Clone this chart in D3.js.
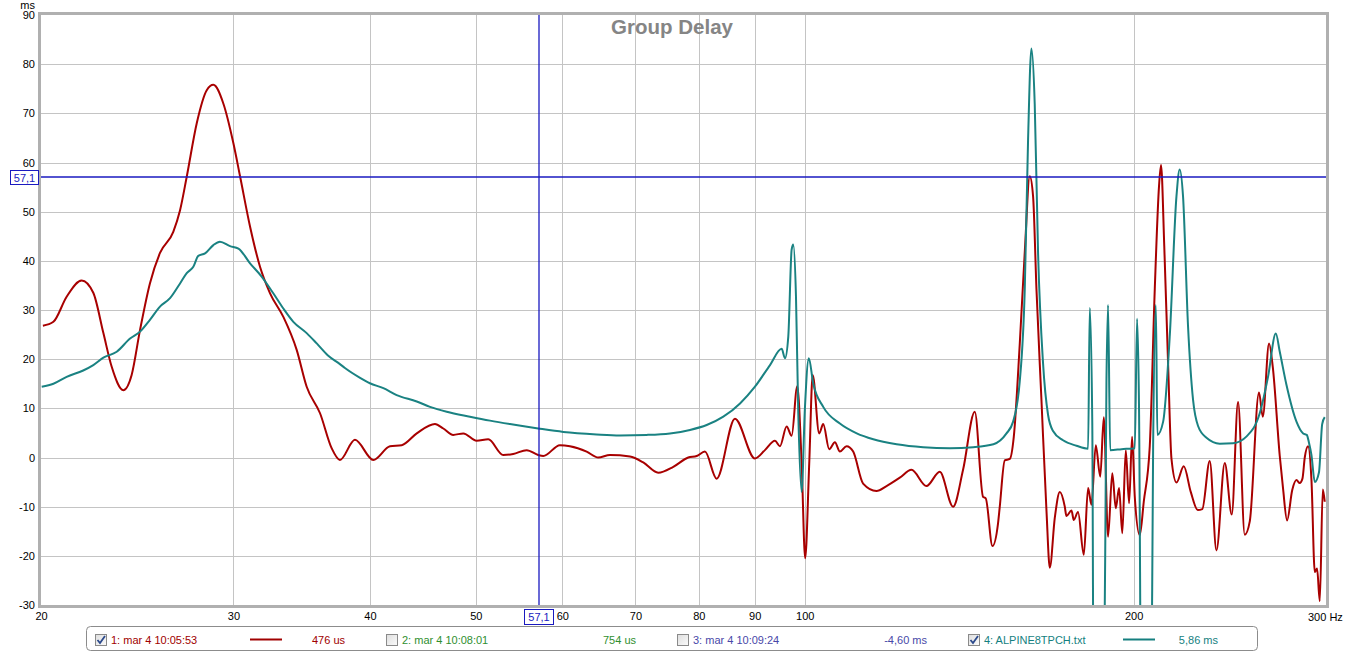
<!DOCTYPE html>
<html><head><meta charset="utf-8">
<script src="https://cdn.jsdelivr.net/npm/d3@7"></script>
<style>
body{margin:0;background:#fff;}
svg{display:block;font-family:"Liberation Sans",Arial,sans-serif;}
</style></head><body>
<svg id="c" width="1345" height="653"></svg>
<script>
const xTicks=[20,30,40,50,60,70,80,90,100,200,300];
const yTicks=[-30,-20,-10,0,10,20,30,40,50,60,70,80,90];
const redFreq=[20.08,20.53,21.11,21.79,22.33,22.81,23.21,23.79,24.21,24.64,
25.16,25.70,26.43,26.81,27.19,27.77,28.36,28.76,29.37,30.0,
30.43,31.07,31.73,32.41,33.33,34.28,35.01,36.01,36.9,37.55,
38.76,40.29,41.73,42.77,44.15,45.88,46.69,47.68,48.7,50.09,
51.33,52.98,54.1,55.66,57.03,57.64,59.7,60.97,63.16,64.72,
66.34,69.19,71.16,73.45,75.81,78.24,79.64,81.04,83.06,86.33,
90.05,91.96,93.93,94.92,96.26,97.29,98.44,99.36,100.1,100.96,
101.7,103.1,103.98,105.3,106.57,107.7,109.23,110.76,113.1,116.34,
118.82,122.19,125.24,129.26,132.93,136.72,139.62,143.11,145.63,146.46,
148.54,150.3,150.85,152.44,154.07,155.37,157.34,159.01,160.69,161.82,
162.97,164.7,166.45,167.62,169.39,171.2,173.0,173.6,175.47,176.3,
177.9,180.07,181.71,183.0,184.68,186.43,187.82,189.52,191.21,192.63,
193.97,195.29,196.73,198.11,199.36,200.5,202.6,204.33,206.93,209.13,
211.02,211.9,213.35,215.06,216.62,218.9,222.3,225.6,228.95,231.14,
234.82,238.15,242.36,245.96,249.25,252.79,255.48,260.5,262.58,266.07,
268.15,272.15,274.03,276.37,279.4,281.9,283.85,285.47,286.87,288.86,
290.95,293.0,294.4,296.1,297.97,299.2];
const redMs=[26.8,27.6,32.7,36.0,33.5,25.3,18.5,13.7,16.8,25.9,
35.4,41.6,45.9,50.3,57.1,68.0,74.7,75.8,72.0,63.9,
57.1,47.0,38.8,33.4,28.6,21.9,14.4,9.0,1.9,-0.5,
3.6,-0.5,2.3,2.5,4.9,6.8,5.9,4.6,4.9,3.4,
3.7,0.5,0.7,1.5,0.5,0.3,2.5,2.3,1.2,0.0,
0.5,0.2,-1.0,-3.1,-1.9,0.0,0.3,1.2,-4.3,7.9,
-0.2,1.5,3.4,2.3,6.3,4.4,14.5,-1.2,-20.5,-1.2,
16.8,4.9,6.8,1.7,3.1,1.2,2.3,1.2,-5.3,-6.8,
-5.8,-4.1,-2.5,-5.8,-2.9,-10.0,-2.5,9.3,-8.0,-8.3,
-18.0,-13.4,-10.0,-0.6,-0.3,4.2,23.1,41.8,57.2,53.1,
34.3,11.7,-10.8,-22.4,-12.3,-7.0,-10.0,-11.9,-10.8,-12.7,
-11.1,-19.8,-6.2,-9.6,2.5,-3.9,8.2,-16.1,-3.2,-10.3,
-6.2,-15.4,1.5,-9.3,4.2,-8.0,-15.8,-9.0,2.3,34.3,
55.3,59.5,43,19.3,-0.3,-5.1,-1.8,-7.0,-10.7,-10.5,
-0.7,-18.9,-1.1,-11.6,11.3,-15.7,-13.0,13.2,8.3,23.2,
18.5,0.3,-6.3,-12.8,-6.6,-4.6,-5.2,-4.3,0.0,2.3,
-4.6,-23.3,-22.6,-29.2,-6.5,-9.0];
const tealFreq=[20.03,20.53,21.11,21.86,22.33,22.81,23.46,24.13,24.64,25.16,
25.70,26.25,26.81,27.19,27.57,27.86,28.26,28.76,29.16,29.79,
30.32,31.07,31.84,32.63,33.33,34.04,35.01,35.76,36.64,37.55,
37.95,39.18,40.0,41.15,42.32,44.15,45.4,47.03,49.39,51.52,
53.73,57.03,60.13,64.5,67.74,71.67,75.28,78.52,81.34,84.24,
87.26,90.05,92.95,95.26,95.93,96.6,97.29,97.62,98.18,98.66,
99.36,100.03,100.88,101.8,103.98,107.7,111.6,115.55,121.38,128.36,
135.83,142.65,148.85,153.0,155.15,157.34,159.01,160.11,161.26,162.38,
163.52,165.25,167.0,168.77,172.37,177.3,181.71,182.35,183.32,183.9,
187.7,188.88,189.52,190.37,195.0,200.5,201.46,202.3,203.34,207.4,
208.4,209.6,210.27,212.85,215.87,218.9,220.4,221.96,224.3,226.7,
229.1,233.2,239.8,246.6,253.8,260.9,265.5,269.9,272.15,276.0,
281.9,285.9,288.1,289.5,290.95,293.0,295.6,297.6,299.2];
const tealMs=[14.4,15.0,16.4,17.7,18.8,20.3,21.5,24.2,25.6,28.0,
30.7,32.4,35.4,37.5,38.8,41.0,41.5,43.2,43.9,43.0,
42.5,39.5,36.8,33.4,30.3,27.6,25.3,23.2,20.7,19.0,
18.2,16.2,15.1,14.1,12.7,11.4,10.3,9.3,8.3,7.5,
6.8,5.9,5.2,4.7,4.5,4.6,4.9,5.6,6.6,8.3,
11.0,14.4,18.8,22.1,20.2,24.6,42.3,43.3,32.7,8.9,
-7.0,9.7,20.2,15.1,10.3,6.9,4.9,3.7,2.7,2.1,
1.9,2.1,2.7,4.9,7.3,15.5,34.3,64.4,83.2,71.9,
41.8,19.2,8.7,5.4,3.5,2.4,1.8,30.4,7.0,-60,
-60,15.8,31.0,1.5,1.7,1.9,28.2,10.0,-60,-60,
2.3,31.0,4.6,7.3,25.0,53.1,58.6,53.1,26.8,11.7,
6.4,4.0,2.8,2.9,4.3,9.0,16.4,25.2,21.5,14.8,
7.3,4.9,4.6,2.9,0.5,-5.0,-3.0,6.8,8.2];
const cursorHz=57.1, cursorMs=57.1;
const legendLabels=["1: mar 4 10:05:53","2: mar 4 10:08:01","3: mar 4 10:09:24","4: ALPINE8TPCH.txt"];
const legendValues=["476 us","754 us","-4,60 ms","5,86 ms"];
const legendChecked=[true,false,false,true];
const legendShowLine=[true,false,false,true];
const legendColors=["#a00000","#2f8f2f","#4848a8","#157f7f"];

const svg=d3.select("#c");
const L=41,T=15,R=1326,B=605;
const x=d3.scaleLog().domain([20,300]).range([L,R]);
const y=d3.scaleLinear().domain([-30,90]).range([B,T]);
const CUR="#1a1ac0";

// grid
svg.append("g").selectAll("line").data(xTicks.slice(1,-1)).join("line")
 .attr("x1",d=>Math.round(x(d))+0.5).attr("x2",d=>Math.round(x(d))+0.5)
 .attr("y1",T).attr("y2",B).attr("stroke","#c4c4c4").attr("stroke-width",1);
svg.append("g").selectAll("line").data(yTicks.slice(1,-1)).join("line")
 .attr("y1",d=>Math.round(y(d))+0.5).attr("y2",d=>Math.round(y(d))+0.5)
 .attr("x1",L).attr("x2",R).attr("stroke","#c4c4c4").attr("stroke-width",1);

// title
svg.append("text").attr("x",672).attr("y",34).attr("text-anchor","middle")
 .attr("font-size",20.5).attr("font-weight","bold").attr("fill","#858585").text("Group Delay");

// clip
svg.append("clipPath").attr("id","pc").append("rect").attr("x",L).attr("y",T).attr("width",R-L).attr("height",B-T);

const line=d3.line().x(d=>x(d[0])).y(d=>y(d[1])).curve(d3.curveMonotoneX);
const redData=redFreq.map((f,i)=>[f,redMs[i]]);
const tealData=tealFreq.map((f,i)=>[f,tealMs[i]]);
const g=svg.append("g").attr("clip-path","url(#pc)");
g.append("path").attr("d",line(redData)).attr("fill","none").attr("stroke","#a80000").attr("stroke-width",2).attr("stroke-linejoin","round");
g.append("path").attr("d",line(tealData)).attr("fill","none").attr("stroke","#1a8282").attr("stroke-width",2).attr("stroke-linejoin","round");

// cursor
const cx=Math.round(x(cursorHz)), cy=Math.round(y(cursorMs));
svg.append("line").attr("x1",cx).attr("x2",cx).attr("y1",T).attr("y2",B).attr("stroke",CUR).attr("stroke-width",1.3);
svg.append("line").attr("x1",L).attr("x2",R).attr("y1",cy).attr("y2",cy).attr("stroke",CUR).attr("stroke-width",1.3);

// frame
svg.append("rect").attr("x",L-1.5).attr("y",T-1.5).attr("width",R-L+3).attr("height",B-T+3)
 .attr("fill","none").attr("stroke","#b0b0b0").attr("stroke-width",3);

// axes
const xAxis=d3.axisBottom(x).tickValues(xTicks).tickSize(0).tickPadding(0)
 .tickFormat(d=>d===300?"":String(d));
const xa=svg.append("g").attr("transform",`translate(0,${B+7})`).call(xAxis);
xa.select(".domain").remove();
xa.selectAll("text").attr("font-size",11).attr("fill","#000").attr("font-family","Liberation Sans, Arial, sans-serif");
svg.append("text").attr("x",x(300)-18).attr("y",B+16).attr("font-size",11).attr("fill","#000").text("300 Hz");

const yAxis=d3.axisLeft(y).tickValues(yTicks).tickSize(0).tickPadding(0).tickFormat(d=>String(d));
const ya=svg.append("g").attr("transform",`translate(35,0)`).call(yAxis);
ya.select(".domain").remove();
ya.selectAll("text").attr("font-size",11).attr("fill","#000").attr("font-family","Liberation Sans, Arial, sans-serif");
svg.append("text").attr("x",35).attr("y",9).attr("text-anchor","end").attr("font-size",11).text("ms");

// cursor labels
const fmt=v=>String(v).replace(".",",");
svg.append("rect").attr("x",cx-14.5).attr("y",609.5).attr("width",29).attr("height",15).attr("fill","#fff").attr("stroke",CUR);
svg.append("text").attr("x",cx).attr("y",621).attr("text-anchor","middle").attr("font-size",11).attr("fill",CUR).text(fmt(cursorHz));
svg.append("rect").attr("x",10.5).attr("y",cy-6.5).attr("width",28).attr("height",14).attr("fill","#fff").attr("stroke",CUR);
svg.append("text").attr("x",24.5).attr("y",cy+4.5).attr("text-anchor","middle").attr("font-size",11).attr("fill",CUR).text(fmt(cursorMs));

// legend
svg.append("rect").attr("x",86.5).attr("y",626.5).attr("width",1171).attr("height",24).attr("rx",4)
 .attr("fill","#fff").attr("stroke","#8c8c8c");
const defs=svg.append("defs");
const gr=defs.append("linearGradient").attr("id","cb").attr("x1",0).attr("y1",0).attr("x2",1).attr("y2",1);
gr.append("stop").attr("offset","0%").attr("stop-color","#dedede");
gr.append("stop").attr("offset","100%").attr("stop-color","#fbfbfb");
legendLabels.forEach((lab,i)=>{
  const x0=95+i*291;
  const e=svg.append("g").attr("transform",`translate(${x0},0)`);
  e.append("rect").attr("x",0.5).attr("y",634.5).attr("width",11).attr("height",11).attr("fill","url(#cb)").attr("stroke","#8a8a8a");
  if(legendChecked[i]) e.append("path").attr("d","M2.5,640 L5,643 L10,636").attr("fill","none").attr("stroke","#2c4a8c").attr("stroke-width",1.8);
  e.append("text").attr("x",16).attr("y",644).attr("font-size",11).attr("fill",legendColors[i]).text(lab);
  if(legendShowLine[i]) e.append("line").attr("x1",155).attr("x2",187).attr("y1",639.5).attr("y2",639.5).attr("stroke",legendColors[i]).attr("stroke-width",2);
  e.append("text").attr("x",250).attr("y",644).attr("text-anchor","end").attr("font-size",11).attr("fill",legendColors[i]).text(legendValues[i]);
});
</script></body></html>
